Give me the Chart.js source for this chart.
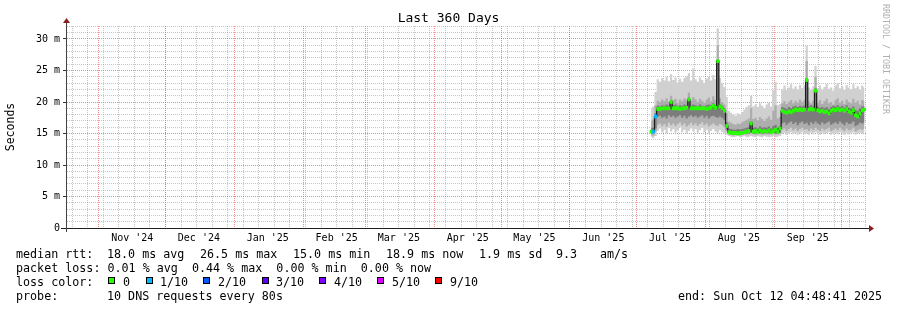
<!DOCTYPE html>
<html><head><meta charset="utf-8">
<script src="https://cdn.jsdelivr.net/npm/chart.js@4"></script>
<style>
html,body{margin:0;padding:0;background:#fff;}
#wrap{position:relative;width:897px;height:310px;overflow:hidden;background:#fff;}
#c{position:absolute;left:0;top:0;}
.t{position:absolute;font-family:"DejaVu Sans Mono",monospace;font-size:11.7px;line-height:14px;color:#000;white-space:pre;}
.box{position:absolute;width:5px;height:5px;border:1px solid #000;}
#wm{position:absolute;left:881px;top:4px;font-family:"DejaVu Sans Mono",monospace;font-size:8.3px;line-height:10px;color:#b0b0b0;writing-mode:vertical-rl;white-space:pre;}
</style></head>
<body>
<div id="wrap"><canvas id="c" width="897" height="310"></canvas><div id="wm">RRDTOOL / TOBI OETIKER</div></div>
<script>
// ---------- data (values in ms, one sample per day from 2025-07-07) ----------
const firstSampleDay = [2025, 6, 7];
const median = [15.3,15.3,17.7,18.9,18.9,19.0,19.0,19.0,19.0,20.0,
 19.0,19.0,19.0,18.9,19.0,19.0,19.1,20.4,19.0,19.0,
 19.0,19.0,19.0,19.0,19.0,18.9,19.0,19.1,19.4,19.1,
 26.5,19.3,19.0,18.6,16.2,15.2,15.1,15.1,15.1,15.0,
 15.1,15.1,15.2,15.3,15.4,16.6,15.3,15.4,15.2,15.5,
 15.3,15.4,15.3,15.5,15.2,15.4,15.6,15.3,15.8,18.6,
 18.4,18.3,18.5,18.4,18.6,18.8,18.7,18.8,18.7,18.8,
 23.5,18.8,18.9,18.8,21.8,18.7,18.5,18.6,18.4,18.5,
 18.2,18.6,18.8,18.7,18.9,18.7,18.8,18.6,18.9,18.5,
 18.3,18.7,17.9,17.7,18.2,18.7,18.8];
const lossTenths = [0,1,1,0,0,0,0,0,0,0, 0,0,0,0,0,0,0,0,0,0, 0,0,0,0,0,0,0,0,0,0,
 0,0,0,0,0,0,0,0,0,0, 0,0,0,0,0,0,0,0,0,0, 0,0,0,0,0,0,0,0,0,0,
 0,0,0,0,0,0,0,0,0,0, 0,0,0,0,0,0,0,0,0,0, 0,0,0,0,0,0,0,0,0,0, 0,0,0,0,0,0,0];
const lightHi = [19.0,19.3,21.6,23.6,23.2,23.8,23.4,24.0,23.3,24.4,
 23.5,23.9,23.1,23.7,23.2,23.8,24.1,24.6,23.4,25.3,
 23.6,23.2,23.9,23.5,23.0,23.7,24.0,23.4,24.3,23.6,
 31.7,23.8,23.0,22.4,20.8,18.6,18.3,18.0,17.8,18.2,
 18.0,18.4,18.8,19.2,19.5,21.0,19.3,19.6,19.2,19.8,
 19.4,19.0,19.6,19.9,19.3,21.8,23.2,19.5,19.7,22.0,
 22.6,21.9,22.3,22.8,22.1,22.5,22.0,22.7,22.2,22.6,
 28.9,22.3,22.0,22.5,25.7,22.2,22.6,21.9,22.4,22.9,
 22.1,22.3,21.8,22.6,23.0,22.2,22.5,21.9,22.7,22.3,
 22.0,22.8,22.2,22.5,21.9,22.6,22.3];
const lightLo = [14.4,14.3,14.6,15.4,15.8,15.2,15.6,15.0,15.9,15.3,
 15.7,15.1,15.5,16.0,15.2,15.6,15.0,15.4,15.8,15.3,
 15.7,15.1,15.5,15.9,15.2,15.6,15.0,15.4,15.7,15.3,
 15.1,15.5,15.2,15.0,14.8,14.6,14.5,14.4,14.5,14.6,
 14.4,14.5,14.6,14.4,14.5,14.6,14.5,14.4,14.6,14.5,
 14.4,14.6,14.5,14.4,14.5,14.6,14.4,14.5,14.6,14.9,
 15.1,14.8,15.0,15.2,14.9,15.1,14.8,15.0,15.2,14.9,
 15.0,14.8,15.1,14.9,15.2,15.0,14.8,15.1,14.9,15.0,
 15.2,14.8,15.0,15.1,14.9,15.2,15.0,14.8,15.1,14.9,
 15.0,15.2,14.8,15.0,15.1,14.9,15.0];
const midHi = [17.0,17.2,19.5,20.2,20.0,20.4,20.1,20.6,20.0,21.0,
 20.3,20.5,19.9,20.4,20.1,20.6,20.3,21.5,20.2,20.8,
 20.4,20.0,20.5,20.2,19.9,20.4,20.7,20.1,20.9,20.3,
 29.0,20.6,20.0,19.6,18.2,16.9,16.7,16.5,16.4,16.6,
 16.5,16.8,17.0,17.2,17.4,19.0,17.3,17.5,17.1,17.6,
 17.3,17.0,17.4,17.7,17.2,18.6,19.5,17.4,17.6,19.8,
 20.1,19.7,20.0,20.3,19.8,20.2,19.9,20.4,20.0,20.3,
 26.5,20.1,19.8,20.2,24.0,19.9,20.3,19.7,20.1,20.5,
 19.8,20.0,19.6,20.3,20.6,19.9,20.2,19.7,20.4,20.0,
 19.8,20.5,19.9,20.2,19.6,20.3,20.1];
const midLo = [14.7,14.7,15.2,16.4,16.6,16.2,16.5,16.1,16.7,16.3,
 16.6,16.2,16.5,16.8,16.3,16.6,16.1,16.4,16.7,16.3,
 16.6,16.2,16.5,16.8,16.3,16.6,16.1,16.4,16.6,16.3,
 16.2,16.5,16.3,16.0,15.3,14.9,14.8,14.7,14.8,14.8,
 14.7,14.8,14.9,14.8,14.9,15.0,14.9,14.8,14.9,14.9,
 14.8,14.9,14.9,14.8,14.9,15.0,14.8,14.9,15.0,15.6,
 15.8,15.4,15.7,15.9,15.5,15.8,15.4,15.7,15.9,15.6,
 15.7,15.4,15.8,15.5,15.9,15.6,15.4,15.8,15.5,15.7,
 15.9,15.4,15.6,15.8,15.5,15.9,15.6,15.4,15.8,15.5,
 15.6,15.9,15.3,15.5,15.7,15.6,15.7];
const darkHi = [15.9,15.9,18.2,19.4,19.3,19.5,19.4,19.6,19.4,20.3,
 19.5,19.6,19.3,19.5,19.4,19.6,19.5,20.7,19.4,19.6,
 19.5,19.3,19.6,19.4,19.3,19.5,19.6,19.4,19.8,19.5,
 26.5,19.7,19.4,19.0,16.8,15.8,15.7,15.6,15.6,15.7,
 15.6,15.7,15.8,15.9,16.0,16.9,15.9,16.0,15.8,16.1,
 15.9,16.0,15.9,16.1,15.8,16.2,16.4,15.9,16.2,19.2,
 19.1,18.9,19.2,19.0,19.3,19.4,19.2,19.4,19.3,19.4,
 23.8,19.3,19.5,19.3,22.2,19.3,19.1,19.2,19.0,19.2,
 18.9,19.2,19.4,19.3,19.5,19.2,19.4,19.1,19.5,19.1,
 19.0,19.3,18.7,18.6,19.0,19.3,19.4];
const darkLo = [15.0,15.0,15.8,17.7,17.8,17.5,17.7,17.4,17.9,17.6,
 17.8,17.5,17.7,17.9,17.5,17.8,17.4,17.7,17.9,17.6,
 17.8,17.5,17.7,17.9,17.5,17.8,17.4,17.7,17.8,17.6,
 17.5,17.7,17.5,17.2,15.6,15.0,14.9,14.9,14.9,14.9,
 14.9,14.9,15.0,15.0,15.0,15.1,15.0,15.0,15.0,15.1,
 15.0,15.0,15.0,15.1,15.0,15.1,15.0,15.0,15.1,16.6,
 16.8,16.4,16.7,16.9,16.5,16.8,16.3,16.7,16.9,16.5,
 16.7,16.3,16.8,16.5,16.9,16.6,16.4,16.8,16.5,16.7,
 16.9,16.4,16.6,16.8,16.5,16.9,16.6,16.3,16.8,16.5,
 16.6,16.9,16.2,16.4,16.7,16.6,16.7];

const yTickValues = Array.from({length: 33}, (_, i) => i);   // 0..32 ms
const yMax = 202 / 6.3;                                      // top edge of the plot, ms
const monthLabels = ["Nov '24","Dec '24","Jan '25","Feb '25","Mar '25","Apr '25","May '25","Jun '25","Jul '25","Aug '25","Sep '25"];
const monthStartsYM = [[2024,10],[2024,11],[2025,0],[2025,1],[2025,2],[2025,3],[2025,4],[2025,5],[2025,6],[2025,7],[2025,8],[2025,9]];
const firstWeekLine = [2024, 9, 20];

const rttValues = ['18.0','26.5','15.0','18.9'];
const rttKinds = ['avg','max','min','now'];
const rttSd = '1.9';
const amS = '9.3';
const lossValues = ['0.01','0.44','0.00','0.00'];
const lossKinds = ['avg','max','min','now'];
const lossLegendLabels = ['0','1/10','2/10','3/10','4/10','5/10','9/10'];
const lossTenthsKeys = [0,1,2,3,4,5,9];
const lossColorList = ['#26ff00','#00b8ff','#0059ff','#5e00ff','#7e00ff','#dd00ff','#ff0000'];
const probeText = '10 DNS requests every 80s';
const endText = 'Sun Oct 12 04:48:41 2025';
const titleText = 'Last 360 Days';

// ---------- time axis ----------
const DAY = 86400000;
const endTime = Date.UTC(2025, 9, 12, 4, 48, 41);
const startTime = endTime - 360 * DAY;
const firstSample = Date.UTC(firstSampleDay[0], firstSampleDay[1], firstSampleDay[2], 12);
const sampleX = median.map((_, i) => firstSample + i * DAY);
const monthTicks = monthStartsYM.map(([y, m]) => Date.UTC(y, m, 1)).filter(t => t > startTime && t < endTime);
const weekTicks = [];
for (let t = Date.UTC(...firstWeekLine); t < endTime; t += 7 * DAY) weekTicks.push(t);
const monthLabelTicks = monthTicks.slice(0, monthLabels.length).map(t => t + 15 * DAY);

const pts = arr => arr.map((v, i) => ({x: sampleX[i], y: v}));
const lossColorOf = n => lossColorList[lossTenthsKeys.indexOf(n)] || '#26ff00';

const FONT = '"DejaVu Sans Mono", monospace';
const MAJOR = 'rgba(222,79,79,0.65)';
const MINOR = 'rgba(143,143,143,0.5)';

function band(arr, color, fillNext) {
  return {type: 'line', data: pts(arr), stepped: 'middle', pointRadius: 0, borderWidth: 0,
    borderColor: 'rgba(0,0,0,0)', backgroundColor: color,
    fill: fillNext ? {target: '+1', above: color, below: color} : false};
}

const datasets = [
  {type: 'bar', data: median.map((m, i) => ({x: sampleX[i], y: [m - 0.24, m + 0.24]})),
   backgroundColor: lossTenths.map(lossColorOf), borderWidth: 0, barThickness: 2.3, grouped: false},
  {type: 'line', data: pts(median), stepped: 'middle', pointRadius: 0, borderWidth: 1.2, borderColor: '#1a1a1a', fill: false},
  band(darkHi, '#7c7c7c', true),
  band(darkLo, '#7c7c7c', false),
  band(midHi, '#adadad', true),
  band(midLo, '#adadad', false),
  band(lightHi, '#d0d0d0', true),
  band(lightLo, '#d0d0d0', false)
];

const axisPlugin = {
  id: 'rrdAxes',
  afterDraw(chart) {
    const {ctx, chartArea: a} = chart;
    const yb = Math.round(a.bottom) + 0.5, xl = Math.round(a.left) + 0.5;
    ctx.save();
    ctx.lineWidth = 1;
    ctx.strokeStyle = '#1f1f1f';
    ctx.beginPath(); ctx.moveTo(a.left - 5, yb); ctx.lineTo(a.right + 3, yb); ctx.stroke();
    ctx.strokeStyle = '#444';
    ctx.beginPath(); ctx.moveTo(xl, a.bottom + 4); ctx.lineTo(xl, a.top - 3); ctx.stroke();
    ctx.fillStyle = '#8a1f1f';
    ctx.beginPath(); ctx.moveTo(a.right + 3, yb - 3.5); ctx.lineTo(a.right + 8, yb); ctx.lineTo(a.right + 3, yb + 3.5); ctx.closePath(); ctx.fill();
    ctx.beginPath(); ctx.moveTo(xl - 3.5, a.top - 3); ctx.lineTo(xl, a.top - 8); ctx.lineTo(xl + 3.5, a.top - 3); ctx.closePath(); ctx.fill();
    ctx.restore();
  }
};

const gridAxis = (ticksArr, color, weight) => ({
  type: 'linear', position: 'bottom', min: startTime, max: endTime, z: 1, weight, offset: false,
  afterBuildTicks: s => { s.ticks = ticksArr.map(v => ({value: v})); },
  ticks: {display: false, autoSkip: false},
  grid: {offset: false, color, lineWidth: 1, drawTicks: false},
  border: {display: false, dash: [1, 1]},
  afterFit: s => { s.height = 1; }
});

new Chart(document.getElementById('c'), {
  type: 'line',
  data: {datasets},
  plugins: [axisPlugin],
  options: {
    responsive: false, animation: false, events: [],
    layout: {padding: {left: 0, right: 0, top: 0, bottom: 64}},
    plugins: {
      legend: {display: false}, tooltip: {enabled: false},
      title: {display: true, text: titleText, color: '#000',
        font: {family: FONT, size: 13, weight: 'normal', lineHeight: 1}, padding: {top: 12.5, bottom: 0.5}}
    },
    scales: {
      xw: gridAxis(weekTicks, MINOR, 0),
      x: gridAxis(monthTicks, MAJOR, 1),
      xl: {
        type: 'linear', position: 'bottom', min: startTime, max: endTime, weight: 2, offset: false,
        afterBuildTicks: s => { s.ticks = monthLabelTicks.map(v => ({value: v})); },
        ticks: {autoSkip: false, maxRotation: 0, minRotation: 0, padding: 2, color: '#000',
          font: {family: FONT, size: 10}, callback: (v, i) => monthLabels[i]},
        grid: {display: false, drawTicks: false, offset: false},
        border: {display: false},
        afterFit: s => { s.height = 16; }
      },
      y: {
        type: 'linear', position: 'left', min: 0, max: yMax, z: 1,
        afterBuildTicks: s => { s.ticks = yTickValues.map(v => ({value: v})); },
        ticks: {autoSkip: false, padding: 3, color: '#000', font: {family: FONT, size: 10},
          callback: v => (v % 5 === 0 ? (v === 0 ? '0' : v + ' m') : '')},
        grid: {color: c => (c.tick && c.tick.value % 5 === 0) ? MAJOR : MINOR, lineWidth: 1,
          drawTicks: true, tickLength: 3, tickColor: c => (c.tick && c.tick.value % 5 === 0) ? '#333' : 'rgba(0,0,0,0)'},
        border: {display: false, dash: [1, 1], dashOffset: 1},
        title: {display: true, text: 'Seconds', color: '#000', font: {family: FONT, size: 11.5, lineHeight: 1.2}, padding: {top: 4, bottom: 0}},
        afterFit: s => { s.width = 66; }
      },
      yr: {
        type: 'linear', position: 'right', min: 0, max: yMax,
        ticks: {display: false}, grid: {display: false, drawTicks: false}, border: {display: false},
        afterFit: s => { s.width = 31; }
      }
    }
  }
});

// ---------- legend text (real DOM text) ----------
const wrap = document.getElementById('wrap');
function txt(s, x, y) { const d = document.createElement('div'); d.className = 't'; d.textContent = s; d.style.left = x + 'px'; d.style.top = y + 'px'; wrap.appendChild(d); }
const lineTop = [247, 261, 275, 289];
const colX1 = [107, 200, 293, 386];
txt('median rtt:', 16, lineTop[0]);
rttValues.forEach((v, i) => txt(v + ' ms ' + rttKinds[i], colX1[i], lineTop[0]));
txt(rttSd + ' ms sd', 479, lineTop[0]);
txt(amS, 556, lineTop[0]);
txt('am/s', 600, lineTop[0]);
txt('packet loss: ' + lossValues.map((v, i) => v + ' % ' + lossKinds[i]).join('  '), 16, lineTop[1]);
txt('loss color:', 16, lineTop[2]);
const boxX = [108, 146, 203, 262, 319, 377, 435];
const lblX = [123, 160, 218, 276, 334, 392, 450];
lossLegendLabels.forEach((l, i) => {
  const b = document.createElement('div'); b.className = 'box';
  b.style.left = boxX[i] + 'px'; b.style.top = '277px'; b.style.background = lossColorList[i];
  wrap.appendChild(b);
  txt(l, lblX[i], lineTop[2]);
});
txt('probe:', 16, lineTop[3]);
txt(probeText, 107, lineTop[3]);
txt('end: ' + endText, 678, lineTop[3]);
</script>
</body></html>
